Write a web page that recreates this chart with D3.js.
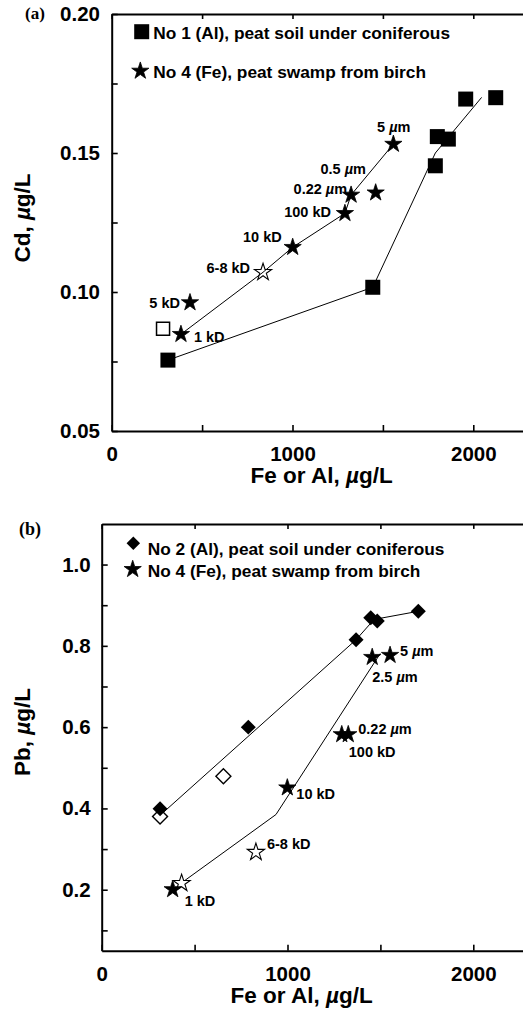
<!DOCTYPE html>
<html><head><meta charset="utf-8">
<script src="https://cdn.jsdelivr.net/npm/d3@7"></script>
<style>body{margin:0;background:#fff} svg{display:block}</style>
</head><body>
<svg id="c" width="523" height="1011"></svg>
<script>
// ---------- Panel (a): Cd vs Fe or Al ----------
const aSquareX = [311, 1444, 1790, 1801, 1862, 1958, 2124];
const aSquareY = [0.0755, 0.1017, 0.1454, 0.1559, 0.155, 0.1694, 0.1699];
const aOpenSquareX = [284];
const aOpenSquareY = [0.0868];
const aSquareLineX = [311, 1444, 1790, 2046];
const aSquareLineY = [0.0755, 0.1017, 0.150, 0.170];
const aStarLabels = ["1 kD", "5 kD", "6-8 kD", "10 kD", "100 kD", "0.22 µm", "0.5 µm", "5 µm"];
const aStarX = [383, 433, 837, 1001, 1290, 1324, 1460, 1558];
const aStarY = [0.0848, 0.0962, 0.1071, 0.1161, 0.1283, 0.1349, 0.1357, 0.1532];
const aStarOpen = [false, false, true, false, false, false, false, false];
const aStarLineX = [383, 837, 1001, 1290, 1324, 1558];
const aStarLineY = [0.0848, 0.1071, 0.1161, 0.1283, 0.1349, 0.1532];
const aXTicks = [0, 500, 1000, 1500, 2000];
const aXTickLabels = ["0", "", "1000", "", "2000"];
const aYTicks = [0.05, 0.075, 0.1, 0.125, 0.15, 0.175, 0.2];
const aYTickLabels = ["0.05", "", "0.10", "", "0.15", "", "0.20"];
const aLegend = ["No 1 (Al), peat soil under coniferous", "No 4 (Fe), peat swamp from birch"];

// ---------- Panel (b): Pb vs Fe or Al ----------
const bDiamondX = [314, 789, 1369, 1448, 1483, 1704];
const bDiamondY = [0.399, 0.600, 0.815, 0.869, 0.861, 0.885];
const bOpenDiamondX = [314, 655];
const bOpenDiamondY = [0.380, 0.479];
const bDiamondLineX = [314, 1369, 1466, 1704];
const bDiamondLineY = [0.383, 0.815, 0.865, 0.885];
const bStarLabels = ["1 kD", "", "6-8 kD", "10 kD", "100 kD", "0.22 µm", "2.5 µm", "5 µm"];
const bStarX = [382, 430, 830, 999, 1292, 1327, 1456, 1552];
const bStarY = [0.2007, 0.216, 0.2925, 0.451, 0.582, 0.582, 0.772, 0.777];
const bStarOpen = [false, true, true, false, false, false, false, false];
const bStarLineX = [448, 938, 1499];
const bStarLineY = [0.223, 0.385, 0.781];
const bXTicks = [0, 500, 1000, 1500, 2000];
const bXTickLabels = ["0", "", "1000", "", "2000"];
const bYTicks = [0.1, 0.2, 0.3, 0.4, 0.5, 0.6, 0.7, 0.8, 0.9, 1.0];
const bYTickLabels = ["", "0.2", "", "0.4", "", "0.6", "", "0.8", "", "1.0"];
const bLegend = ["No 2 (Al), peat soil under coniferous", "No 4 (Fe), peat swamp from birch"];

const xTitle = "Fe or Al, µg/L";

// ---------- layout (positions / styles) ----------
const FONT = "'Liberation Sans', Arial, Helvetica, sans-serif";
const svg = d3.select("#c");

const aLabelPos = [
  {dx: 13, dy: 2.4, a: "start"}, {dx: -10, dy: 0.6, a: "end"}, {dx: -13, dy: -4, a: "end"},
  {dx: -11, dy: -10, a: "end"}, {dx: -14, dy: -1.6, a: "end"}, {dx: -4, dy: -5.7, a: "end"},
  {dx: -9.7, dy: -24.4, a: "end"}, {dx: 0.4, dy: -17.5, a: "middle"}
];
const bLabelPos = [
  {dx: 12, dy: 11, a: "start"}, null, {dx: 11, dy: -8, a: "start"},
  {dx: 9, dy: 6, a: "start"}, {dx: 7, dy: 17, a: "start"}, {dx: 10, dy: -6, a: "start"},
  {dx: 0, dy: 20, a: "start"}, {dx: 10, dy: -4, a: "start"}
];

function addMuText(sel, str) {
  const parts = str.split("µ");
  parts.forEach((p, i) => {
    if (i > 0) sel.append("tspan").attr("font-style", "italic").text("µ");
    if (p.length) sel.append("tspan").text(p);
  });
}

const starPath = d3.symbol(d3.symbolStar, 92)();
const squarePath = d3.symbol(d3.symbolSquare, 225)();
const openSquarePath = d3.symbol(d3.symbolSquare, 170)();
const diamondPath = d3.symbol(d3.symbolSquare, 112)();
const line = d3.line();

function drawAxes(g, x, y, cfg) {
  const top = y.range()[1], bottom = y.range()[0], left = x.range()[0];
  const style = s => s.attr("font-family", FONT).attr("font-size", 20.5).attr("font-weight", "bold");
  const bx = g.append("g").attr("transform", `translate(0,${bottom})`)
    .call(d3.axisBottom(x).tickValues(cfg.xTicks).tickFormat((d, i) => cfg.xTickLabels[i])
      .tickSizeInner(-6).tickSizeOuter(0).tickPadding(cfg.xPad));
  const tx = g.append("g").attr("transform", `translate(0,${top})`)
    .call(d3.axisTop(x).tickValues(cfg.xTicks).tickFormat(() => "")
      .tickSizeInner(-5).tickSizeOuter(0));
  const ly = g.append("g").attr("transform", `translate(${left},0)`)
    .call(d3.axisLeft(y).tickValues(cfg.yTicks).tickFormat((d, i) => cfg.yTickLabels[i])
      .tickSizeInner(-6).tickSizeOuter(0).tickPadding(cfg.yPad));
  [bx, tx, ly].forEach(a => {
    style(a);
    a.select(".domain").attr("stroke", "#000").attr("stroke-width", 2);
    a.selectAll(".tick line").attr("stroke", "#000").attr("stroke-width", 1.6);
    a.selectAll(".tick text").attr("fill", "#000");
  });
}

function drawStars(g, x, y, X, Y, open, labels, pos) {
  g.append("g").selectAll("path").data(X).join("path")
    .attr("d", starPath)
    .attr("transform", (d, i) => `translate(${x(d)},${y(Y[i])})`)
    .attr("fill", (d, i) => open[i] ? "none" : "#000")
    .attr("stroke", "#000").attr("stroke-width", (d, i) => open[i] ? 1.1 : 0.8);
  const lg = g.append("g").attr("font-family", FONT).attr("font-size", 14.5).attr("font-weight", "bold");
  labels.forEach((lab, i) => {
    if (!lab || !pos[i]) return;
    const t = lg.append("text")
      .attr("x", x(X[i]) + pos[i].dx).attr("y", y(Y[i]) + pos[i].dy)
      .attr("dy", "0.36em").attr("text-anchor", pos[i].a);
    addMuText(t, lab);
  });
}

// ================= Panel (a) =================
{
  const x = d3.scaleLinear().domain([0, 2400]).range([111.7, 111.7 + 2400 * 0.1808]);
  const y = d3.scaleLinear().domain([0.05, 0.20]).range([431, 14]);
  const g = svg.append("g");
  g.append("path").attr("d", line(aSquareLineX.map((d, i) => [x(d), y(aSquareLineY[i])])))
    .attr("fill", "none").attr("stroke", "#000").attr("stroke-width", 1);
  g.append("path").attr("d", line(aStarLineX.map((d, i) => [x(d), y(aStarLineY[i])])))
    .attr("fill", "none").attr("stroke", "#000").attr("stroke-width", 1);
  g.append("g").selectAll("path").data(aSquareX).join("path")
    .attr("d", squarePath).attr("transform", (d, i) => `translate(${x(d)},${y(aSquareY[i])})`)
    .attr("fill", "#000");
  g.append("g").selectAll("path").data(aOpenSquareX).join("path")
    .attr("d", openSquarePath).attr("transform", (d, i) => `translate(${x(d)},${y(aOpenSquareY[i])})`)
    .attr("fill", "#fff").attr("stroke", "#000").attr("stroke-width", 1.5);
  drawStars(g, x, y, aStarX, aStarY, aStarOpen, aStarLabels, aLabelPos);
  drawAxes(g, x, y, {xTicks: aXTicks, xTickLabels: aXTickLabels, yTicks: aYTicks, yTickLabels: aYTickLabels, xPad: 15, yPad: 11.7});

  // legend
  g.append("path").attr("d", squarePath).attr("transform", "translate(141.7,31.7)").attr("fill", "#000");
  g.append("path").attr("d", starPath).attr("transform", "translate(140.3,71)").attr("fill", "#000")
    .attr("stroke", "#000").attr("stroke-width", 0.8);
  g.append("text").attr("x", 153.3).attr("y", 39.3).attr("font-family", FONT).attr("font-size", 17.3)
    .attr("font-weight", "bold").text(aLegend[0]);
  g.append("text").attr("x", 153.3).attr("y", 78).attr("font-family", FONT).attr("font-size", 17.3)
    .attr("font-weight", "bold").text(aLegend[1]);

  // titles
  const xt = g.append("text").attr("x", 321.7).attr("y", 483).attr("text-anchor", "middle")
    .attr("font-family", FONT).attr("font-size", 22.5).attr("font-weight", "bold");
  addMuText(xt, xTitle);
  const yt = g.append("text").attr("transform", "translate(30,218) rotate(-90)").attr("text-anchor", "middle")
    .attr("font-family", FONT).attr("font-size", 22.5).attr("font-weight", "bold");
  addMuText(yt, "Cd, µg/L");
  g.append("text").attr("x", 25).attr("y", 19).attr("font-family", "'Liberation Serif', 'Times New Roman', serif")
    .attr("font-size", 17).attr("font-weight", "bold").text("(a)");
}

// ================= Panel (b) =================
{
  const x = d3.scaleLinear().domain([0, 2400]).range([101.7, 101.7 + 2400 * 0.1858]);
  const y = d3.scaleLinear().domain([0.05, 1.1]).range([950.7, 523.9]);
  const g = svg.append("g");
  g.append("path").attr("d", line(bDiamondLineX.map((d, i) => [x(d), y(bDiamondLineY[i])])))
    .attr("fill", "none").attr("stroke", "#000").attr("stroke-width", 1);
  g.append("path").attr("d", line(bStarLineX.map((d, i) => [x(d), y(bStarLineY[i])])))
    .attr("fill", "none").attr("stroke", "#000").attr("stroke-width", 1);
  g.append("g").selectAll("path").data(bOpenDiamondX).join("path")
    .attr("d", diamondPath).attr("transform", (d, i) => `translate(${x(d)},${y(bOpenDiamondY[i])}) rotate(45)`)
    .attr("fill", "#fff").attr("stroke", "#000").attr("stroke-width", 1.4);
  g.append("g").selectAll("path").data(bDiamondX).join("path")
    .attr("d", diamondPath).attr("transform", (d, i) => `translate(${x(d)},${y(bDiamondY[i])}) rotate(45)`)
    .attr("fill", "#000");
  drawStars(g, x, y, bStarX, bStarY, bStarOpen, bStarLabels, bLabelPos);
  drawAxes(g, x, y, {xTicks: bXTicks, xTickLabels: bXTickLabels, yTicks: bYTicks, yTickLabels: bYTickLabels, xPad: 16, yPad: 11});

  // legend
  g.append("path").attr("d", diamondPath).attr("fill", "#000")
    .attr("transform", "translate(133.3,543.3) rotate(45) scale(0.9)");
  g.append("path").attr("d", starPath).attr("transform", "translate(132.7,569.3)").attr("fill", "#000")
    .attr("stroke", "#000").attr("stroke-width", 0.8);
  g.append("text").attr("x", 147.7).attr("y", 555).attr("font-family", FONT).attr("font-size", 17.3)
    .attr("font-weight", "bold").text(bLegend[0]);
  g.append("text").attr("x", 147.7).attr("y", 576.5).attr("font-family", FONT).attr("font-size", 17.3)
    .attr("font-weight", "bold").text(bLegend[1]);

  const xt = g.append("text").attr("x", 301.7).attr("y", 1003).attr("text-anchor", "middle")
    .attr("font-family", FONT).attr("font-size", 22.5).attr("font-weight", "bold");
  addMuText(xt, xTitle);
  const yt = g.append("text").attr("transform", "translate(30,732) rotate(-90)").attr("text-anchor", "middle")
    .attr("font-family", FONT).attr("font-size", 22.5).attr("font-weight", "bold");
  addMuText(yt, "Pb, µg/L");
  g.append("text").attr("x", 19).attr("y", 535).attr("font-family", "'Liberation Serif', 'Times New Roman', serif")
    .attr("font-size", 18).attr("font-weight", "bold").text("(b)");
}
</script>
</body></html>
